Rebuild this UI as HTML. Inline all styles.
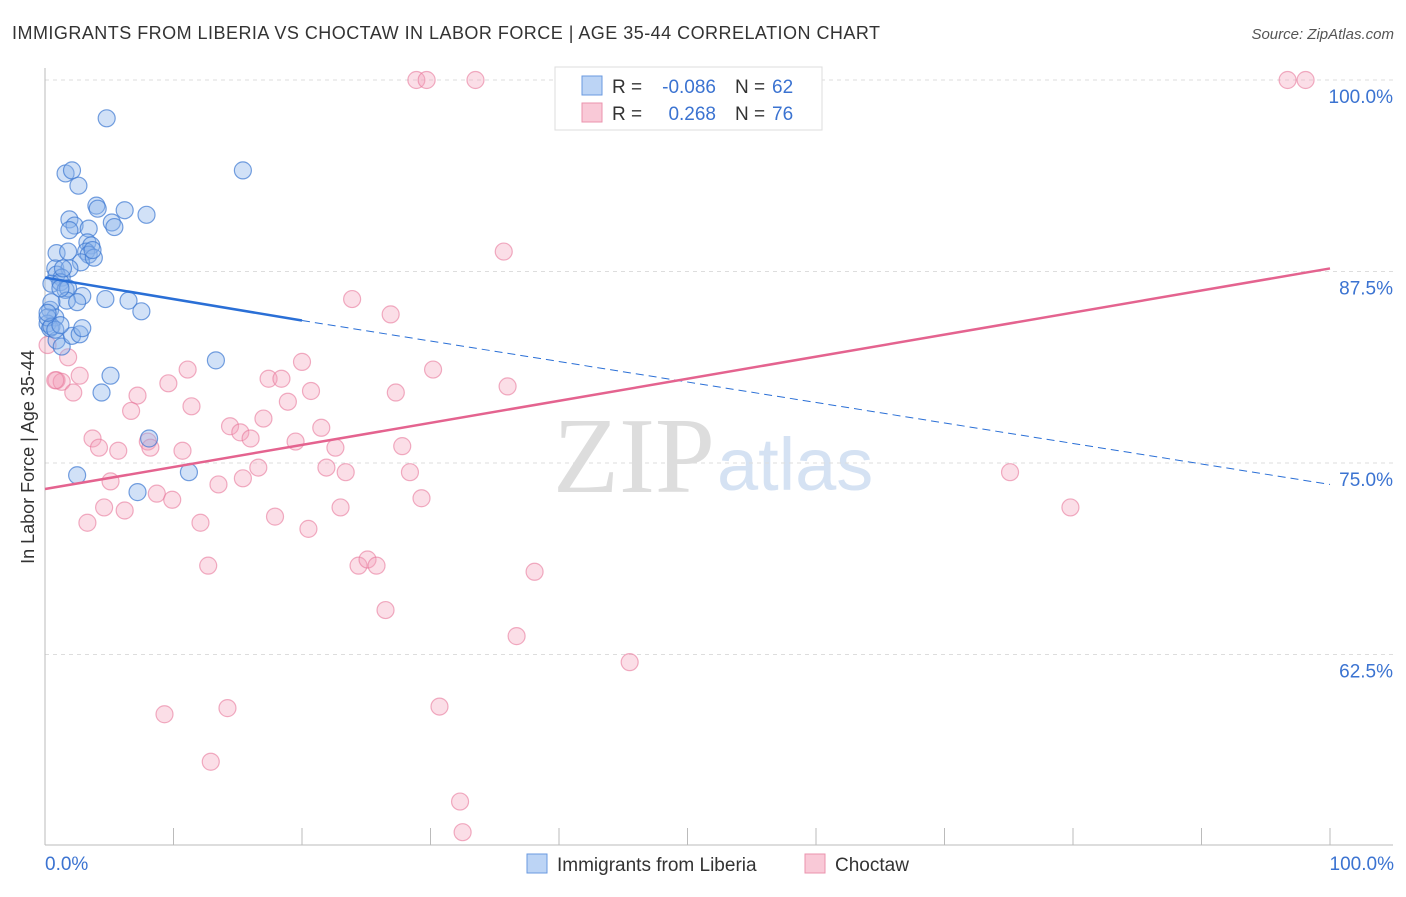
<!DOCTYPE html>
<html><head><meta charset="utf-8"><style>
body{margin:0;background:#fff;font-family:"Liberation Sans",sans-serif}
</style></head><body>
<svg id="c" width="1406" height="892" xmlns="http://www.w3.org/2000/svg" font-family="Liberation Sans, sans-serif">
<text x="12" y="39" font-size="18" fill="#333" textLength="868">IMMIGRANTS FROM LIBERIA VS CHOCTAW IN LABOR FORCE | AGE 35-44 CORRELATION CHART</text>
<text x="1394" y="39" font-size="15" fill="#555" font-style="italic" text-anchor="end">Source: ZipAtlas.com</text>
<text x="715" y="492" font-size="108" fill="#ddd" text-anchor="end" font-family="Liberation Serif, serif">ZIP</text>
<text x="717" y="490" font-size="74" fill="#d5e2f3">atlas</text>
<g id="grid"></g><g id="axes"></g><g id="pts"></g><g id="trend"></g>
<text transform="translate(34,457) rotate(-90)" font-size="18" fill="#333" text-anchor="middle">In Labor Force | Age 35-44</text>
<text x="45" y="870" font-size="19" fill="#3b73d1">0.0%</text>
<text x="1394" y="870" font-size="19" fill="#3b73d1" text-anchor="end">100.0%</text>
<g>
<rect x="555" y="67" width="267" height="63" fill="#fff" stroke="#ddd"/>
<rect x="582" y="76" width="20" height="19" fill="#bcd4f5" stroke="#6a9ae0"/>
<rect x="582" y="103" width="20" height="19" fill="#f9c9d7" stroke="#eb93ae"/>
<text x="612" y="93" font-size="19" fill="#333">R =</text>
<text x="716" y="93" font-size="19" fill="#3b73d1" text-anchor="end">-0.086</text>
<text x="735" y="93" font-size="19" fill="#333">N =</text>
<text x="772" y="93" font-size="19" fill="#3b73d1">62</text>
<text x="612" y="120" font-size="19" fill="#333">R =</text>
<text x="716" y="120" font-size="19" fill="#3b73d1" text-anchor="end">0.268</text>
<text x="735" y="120" font-size="19" fill="#333">N =</text>
<text x="772" y="120" font-size="19" fill="#3b73d1">76</text>
</g>
<g><rect x="527" y="854" width="20" height="19" fill="#bcd4f5" stroke="#6a9ae0"/><text x="557" y="871" font-size="19" fill="#333">Immigrants from Liberia</text></g>
<g><rect x="805" y="854" width="20" height="19" fill="#f9c9d7" stroke="#eb93ae"/><text x="835" y="871" font-size="19" fill="#333">Choctaw</text></g>
</svg>
<script>
const blueX=[4.8,15.4,1.6,2.1,2.6,4.0,4.1,6.2,7.9,1.9,2.3,5.2,5.4,1.9,3.4,3.3,3.6,0.9,1.8,3.2,3.4,2.8,3.8,0.8,1.9,0.9,1.3,0.5,1.2,1.6,1.8,2.9,1.7,2.5,4.7,6.5,7.5,0.4,0.8,0.2,0.4,0.9,1.3,2.1,2.7,2.9,13.3,5.1,4.4,8.1,2.5,11.2,7.2,0.5,1.2,0.2,0.5,0.2,0.8,1.2,3.7,1.4];
const blueY=[97.5,94.1,93.9,94.1,93.1,91.8,91.6,91.5,91.2,90.9,90.5,90.7,90.4,90.2,90.3,89.4,89.2,88.7,88.8,88.8,88.6,88.1,88.4,87.7,87.7,87.3,87.1,86.7,86.8,86.3,86.4,85.9,85.6,85.5,85.7,85.6,84.9,85.0,84.5,84.1,83.8,83.0,82.6,83.3,83.4,83.8,81.7,80.7,79.6,76.6,74.2,74.4,73.1,85.5,86.4,84.5,83.9,84.8,83.7,84.0,88.9,87.7];
const pinkX=[28.9,29.7,33.5,46.7,96.7,98.1,35.7,23.9,26.9,0.2,1.8,0.9,2.7,1.3,2.2,11.1,9.6,7.2,6.7,11.4,17.4,18.4,20.0,20.7,18.9,27.3,30.2,36.0,14.4,15.2,16.0,17.0,21.5,19.5,22.6,27.8,3.7,4.2,5.7,8.0,8.2,10.7,16.6,15.4,13.5,21.9,23.4,28.4,29.3,75.1,79.8,5.1,8.7,9.9,4.6,6.2,3.3,12.1,17.9,20.5,23.0,12.7,24.4,25.1,25.8,38.1,26.5,36.7,45.5,9.3,14.2,30.7,12.9,32.3,32.5,0.8];
const pinkY=[100,100,100,100,100,100,88.8,85.7,84.7,82.7,81.9,80.4,80.7,80.3,79.6,81.1,80.2,79.4,78.4,78.7,80.5,80.5,81.6,79.7,79.0,79.6,81.1,80.0,77.4,77.0,76.6,77.9,77.3,76.4,76.0,76.1,76.6,76.0,75.8,76.4,76.0,75.8,74.7,74.0,73.6,74.7,74.4,74.4,72.7,74.4,72.1,73.8,73.0,72.6,72.1,71.9,71.1,71.1,71.5,70.7,72.1,68.3,68.3,68.7,68.3,67.9,65.4,63.7,62.0,58.6,59.0,59.1,55.5,52.9,50.9,80.4];
const yTicks=[100,87.5,75,62.5];
const yTickLabels=["100.0%","87.5%","75.0%","62.5%"];
const blueTrend=[87.1,84.3,73.6]; // at x=0,20,100
const pinkTrend=[73.3,87.7]; // at x=0,100
const NS="http://www.w3.org/2000/svg";
const sx=v=>45+v*12.85, sy=v=>80+(100-v)*15.32;
function mk(p,t,a){const e=document.createElementNS(NS,t);for(const k in a)e.setAttribute(k,a[k]);document.getElementById(p).appendChild(e);return e;}
yTicks.forEach((t,i)=>{
 const g=mk('grid','line',{x1:45,x2:1393,y1:sy(t),y2:sy(t),stroke:'#ddd','stroke-dasharray':'4,4'});
 
 
 const l=mk('grid','text',{x:1393,y:sy(t)+23,'font-size':19,fill:'#3b73d1','text-anchor':'end'});
 l.textContent=yTickLabels[i];
 
 
});
let a=mk('axes','line',{x1:45,x2:45,y1:68,y2:845,stroke:'#bbb'});


a=mk('axes','line',{x1:45,x2:1393,y1:845,y2:845,stroke:'#bbb'});


for(let i=1;i<=10;i++){const t=mk('axes','line',{x1:sx(i*10),x2:sx(i*10),y1:828,y2:845,stroke:'#bbb'});
 
 }
pinkX.forEach((x,i)=>{const c=mk('pts','circle',{cx:sx(x),cy:sy(pinkY[i]),r:8.5,fill:'rgba(244,160,186,0.35)',stroke:'rgba(232,120,155,0.6)','stroke-width':1.2});
 
 });
blueX.forEach((x,i)=>{const c=mk('pts','circle',{cx:sx(x),cy:sy(blueY[i]),r:8.5,fill:'rgba(140,180,235,0.4)',stroke:'rgba(60,120,210,0.7)','stroke-width':1.2});
 
 });
let l=mk('trend','line',{x1:sx(0),y1:sy(blueTrend[0]),x2:sx(20),y2:sy(blueTrend[1]),stroke:'#2a6fd6','stroke-width':2.5});


l=mk('trend','line',{x1:sx(20),y1:sy(blueTrend[1]),x2:sx(100),y2:sy(blueTrend[2]),stroke:'#2a6fd6','stroke-width':1,'stroke-dasharray':'8,5'});


l=mk('trend','line',{x1:sx(0),y1:sy(pinkTrend[0]),x2:sx(100),y2:sy(pinkTrend[1]),stroke:'#e4638f','stroke-width':2.5});


</script>
</body></html>
